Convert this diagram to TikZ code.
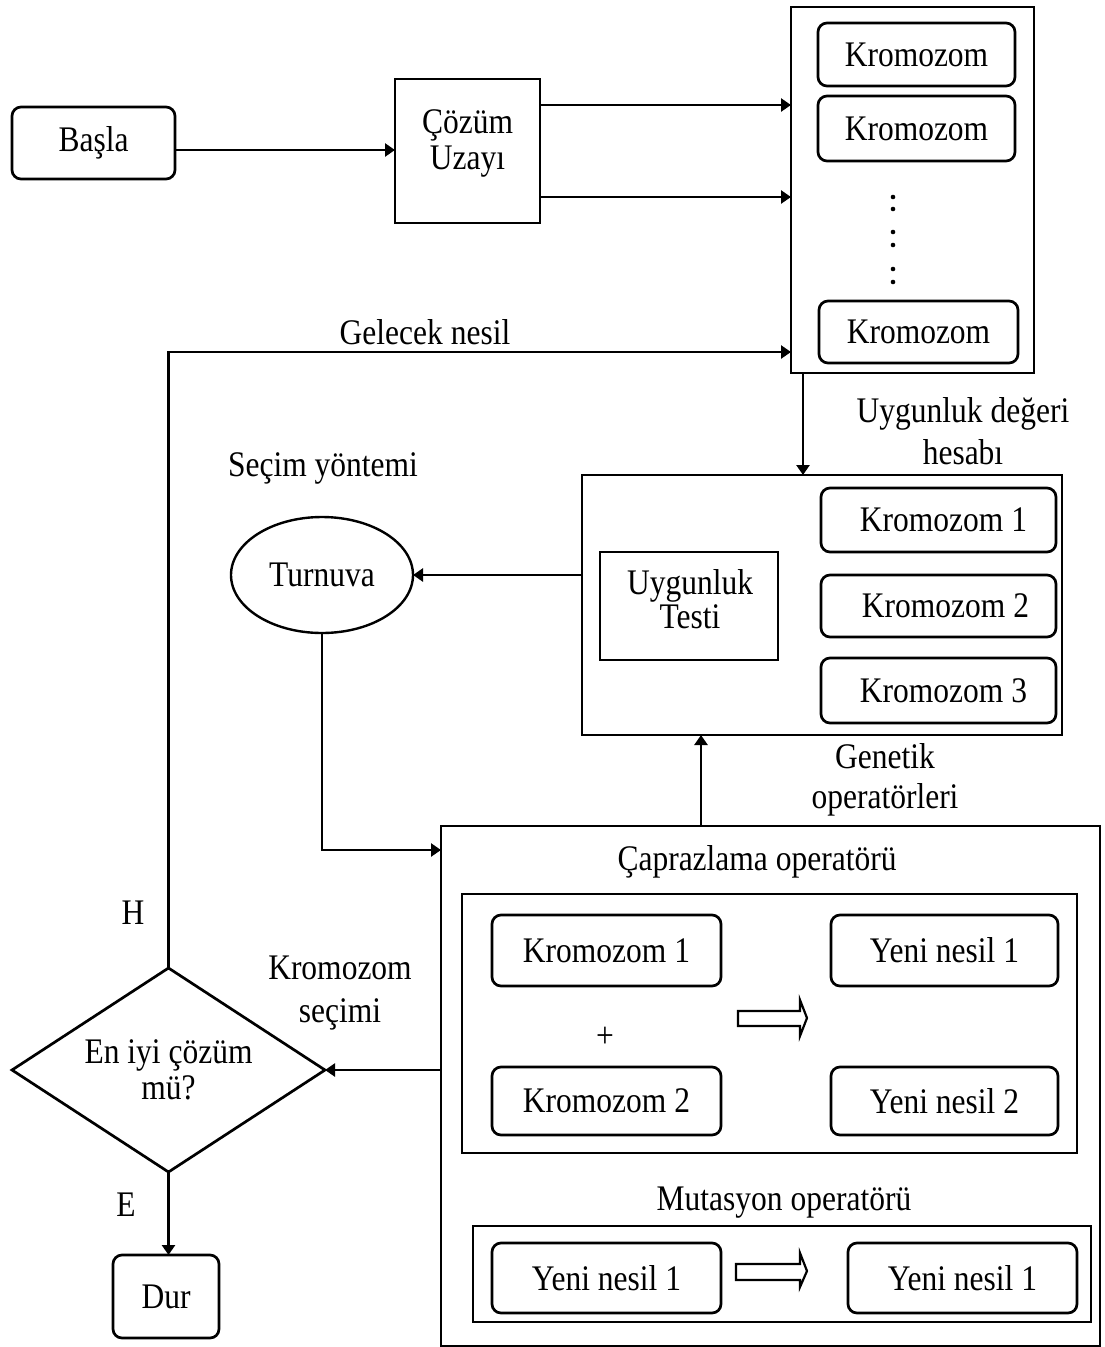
\documentclass[tikz,border=0pt]{standalone}
\usepackage{fontspec}
\setmainfont{Liberation Serif}[FakeStretch=0.875]
\usetikzlibrary{arrows.meta,shapes.geometric}
\begin{document}
\begin{tikzpicture}[x=1pt,y=-1pt,
  line width=2.7pt,
  every node/.style={font=\fontsize{36}{36}\selectfont, inner sep=0pt, outer sep=0pt},
  box/.style={draw, rectangle},
  rbox/.style={draw, rectangle, rounded corners=9pt},
  lbl/.style={align=center},
  arr/.style={-{Triangle[length=10pt,width=13pt]}},
  hollow/.style={draw, line width=2.2pt, line join=miter},
]
\useasboundingbox (0,0) rectangle (1105,1347);

% helper levels for connectors
\coordinate (y150) at (0,150);
\coordinate (y105) at (0,105);
\coordinate (y197) at (0,197);
\coordinate (y352) at (0,352);
\coordinate (y850) at (0,850);
\coordinate (x803) at (803,0);
\coordinate (x701) at (701,0);

% start and solution space
\node[rbox, minimum width=163pt, minimum height=72pt] (basla) at (93.5,143) {Başla};
\node[box, minimum width=145pt, minimum height=144pt] (cozum) at (467.5,151) {};
\node[lbl] (cozumt) at (467.5,143) {Çözüm\\Uzayı};

% population
\node[box, minimum width=243pt, minimum height=366pt] (pop) at (912.5,190) {};
\node[rbox, minimum width=197pt, minimum height=63pt] (ka) at (916.5,54.5) {Kromozom};
\node[rbox, minimum width=197pt, minimum height=65pt] (kb) at (916.5,128.5) {Kromozom};
\node[rbox, minimum width=199pt, minimum height=62pt] (kc) at (918.5,332) {Kromozom};
\foreach \yy in {197,209,232,245,269,282}
  \fill (893,\yy) circle (2.3pt);

% fitness evaluation
\node[box, minimum width=480pt, minimum height=260pt] (fit) at (822,605) {};
\node[box, minimum width=178pt, minimum height=108pt] (test) at (689,606) {};
\node[lbl] (testt) at (690,599) {Uygunluk\\[-2pt]Testi};
\node[rbox, minimum width=235pt, minimum height=64pt] (k1) at (938.5,520) {\hspace*{10pt}Kromozom 1};
\node[rbox, minimum width=235pt, minimum height=62pt] (k2) at (938.5,606) {\hspace*{14pt}Kromozom 2};
\node[rbox, minimum width=235pt, minimum height=65pt] (k3) at (938.5,690.5) {\hspace*{10pt}Kromozom 3};

% selection
\node[draw, ellipse, line width=2.4pt, minimum width=182pt, minimum height=116pt] (turn) at (322,575) {Turnuva};

% genetic operators
\node[box, minimum width=659pt, minimum height=520pt] (cross) at (770.5,1086) {};
\node (capr) at (757,862) {Çaprazlama operatörü};
\node[box, minimum width=615pt, minimum height=259pt] (cin) at (769.5,1023.5) {};
\node[rbox, minimum width=229pt, minimum height=71pt] (ck1) at (606.5,950.5) {Kromozom 1};
\node[rbox, minimum width=227pt, minimum height=71pt] (ny1) at (944.5,950.5) {Yeni nesil 1};
\node[rbox, minimum width=229pt, minimum height=68pt] (ck2) at (606.5,1101) {Kromozom 2};
\node[rbox, minimum width=227pt, minimum height=68pt] (ny2) at (944.5,1101) {Yeni nesil 2};
\node (plus) at (605,1037) {+};
\draw[hollow] (738,1011) -- (800,1011) -- (800,1000) -- (807,1018) -- (800,1036) -- (800,1026) -- (738,1026) -- cycle;

\node (mut) at (784,1203) {Mutasyon operatörü};
\node[box, minimum width=618pt, minimum height=96pt] (mbox) at (782,1274) {};
\node[rbox, minimum width=229pt, minimum height=70pt] (mn1) at (606.5,1278) {Yeni nesil 1};
\node[rbox, minimum width=229pt, minimum height=70pt] (mn2) at (962.5,1278) {Yeni nesil 1};
\draw[hollow] (736,1264) -- (800,1264) -- (800,1253) -- (807,1271) -- (800,1287) -- (800,1280) -- (736,1280) -- cycle;

% decision and stop
\node[draw, diamond, aspect=1.53, minimum width=313pt, minimum height=204pt, align=center] (dec) at (168.5,1070) {En iyi çözüm\\mü?};
\node[rbox, minimum width=106pt, minimum height=83pt] (dur) at (166,1296.5) {Dur};

% labels
\node (gelecek) at (425,332) {Gelecek nesil};
\node[lbl] (uyg) at (963,431) {Uygunluk değeri\\[6pt]hesabı};
\node (secim) at (323,468) {Seçim yöntemi};
\node[lbl] (gen) at (885,780) {Genetik\\[4pt]operatörleri};
\node[lbl] (ksec) at (340,993) {Kromozom\\[7pt]seçimi};
\node (h) at (133,913) {H};
\node (e) at (126,1205) {E};

% connectors
\draw[arr] (basla.east |- y150) -- (cozum.west |- y150);
\draw[arr] (cozum.east |- y105) -- (pop.west |- y105);
\draw[arr] (cozum.east |- y197) -- (pop.west |- y197);
\draw[arr] (pop.south -| x803) -- (fit.north -| x803);
\draw[arr] (fit.west |- turn.east) -- (turn.east);
\draw[arr] (turn.south) |- (cross.west |- y850);
\draw[arr] (cross.north -| x701) -- (fit.south -| x701);
\draw[arr] (cross.west |- dec.east) -- (dec.east);
\draw[arr] (dec.north) |- (pop.west |- y352);
\draw[arr] (dec.south) -- (dec.south |- dur.north);
\end{tikzpicture}
\end{document}
